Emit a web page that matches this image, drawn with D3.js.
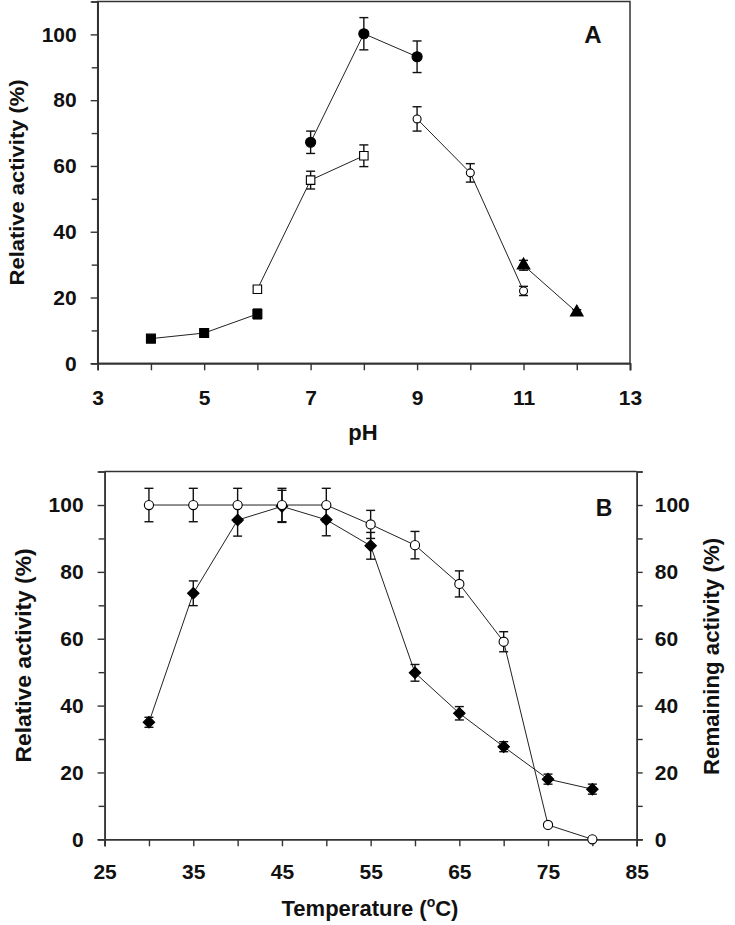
<!DOCTYPE html>
<html>
<head>
<meta charset="utf-8">
<script src="https://cdn.jsdelivr.net/npm/d3@7"></script>
<style>
  html, body { margin: 0; padding: 0; background: #fff; }
  svg { display: block; }
  text { font-family: Arial, "Liberation Sans", sans-serif; font-weight: bold; fill: #111; }
</style>
</head>
<body>
<svg id="chart" width="735" height="925"></svg>
<script>
// ---------- Panel A data (pH) ----------
const pH_filledSquare = [4, 5, 6];
const act_filledSquare = [7.5, 9.2, 15];
const err_filledSquare = [0.8, 0.8, 1.5];

const pH_openSquare = [6, 7, 8];
const act_openSquare = [22.5, 55.7, 63.1];
const err_openSquare = [0.8, 2.7, 3.3];

const pH_filledCircle = [7, 8, 9];
const act_filledCircle = [67.2, 100.2, 93.2];
const err_filledCircle = [3.4, 4.9, 4.8];

const pH_openCircle = [9, 10, 11];
const act_openCircle = [74.3, 57.9, 22];
const err_openCircle = [3.7, 2.8, 1.4];

const pH_triangle = [11, 12];
const act_triangle = [29.8, 15.5];
const err_triangle = [1.5, 0.8];

const pHTicks = [3, 5, 7, 9, 11, 13];
const pHMinorTicks = [4, 6, 8, 10, 12];

// ---------- Panel B data (temperature) ----------
const temps = [30, 35, 40, 45, 50, 55, 60, 65, 70, 75, 80];
const relActivity = [35, 73.6, 95.5, 99.6, 95.6, 87.8, 49.8, 37.7, 27.7, 18, 15];
const relError = [1.5, 3.7, 4.8, 4.8, 4.8, 4.0, 2.5, 2.0, 1.5, 1.5, 1.5];
const remActivity = [100, 100, 100, 100, 100, 94.2, 88, 76.4, 59.1, 4.3, 0];
const remError = [5, 5, 5, 5, 5, 4.2, 4.1, 3.9, 3.0, 0.5, 0];

const tempTicks = [25, 35, 45, 55, 65, 75, 85];
const tempMinorTicks = [30, 40, 50, 60, 70, 80];

const yTicks = [0, 20, 40, 60, 80, 100];
const yMinorTicks = [10, 30, 50, 70, 90];

// ---------- drawing ----------
const svg = d3.select("#chart");
const AXIS = "#333";
const LINE = "#222";

function zip(xs, ys, es) { return xs.map((x, i) => ({ x, y: ys[i], e: es[i] })); }

function drawSeries(g, xS, yS, data) {
  const line = d3.line().x(d => xS(d.x)).y(d => yS(d.y));
  g.append("path").datum(data).attr("d", line)
    .attr("fill", "none").attr("stroke", LINE).attr("stroke-width", 1);
}
function drawErrors(g, xS, yS, data, cap) {
  const eg = g.append("g").attr("stroke", "#111").attr("stroke-width", 1.4).attr("fill", "none");
  data.filter(d => d.e > 0).forEach(d => {
    const x = xS(d.x), y1 = yS(d.y - d.e), y2 = yS(d.y + d.e);
    eg.append("line").attr("x1", x).attr("x2", x).attr("y1", y1).attr("y2", y2);
    eg.append("line").attr("x1", x - cap / 2).attr("x2", x + cap / 2).attr("y1", y1).attr("y2", y1);
    eg.append("line").attr("x1", x - cap / 2).attr("x2", x + cap / 2).attr("y1", y2).attr("y2", y2);
  });
}
function drawMarkers(g, xS, yS, data, type, size, filled, rotate) {
  const sym = d3.symbol().type(type).size(size);
  g.selectAll(null).data(data).enter().append("path")
    .attr("d", sym)
    .attr("transform", d => `translate(${xS(d.x)},${yS(d.y)})` + (rotate ? ` rotate(${rotate})` : ""))
    .attr("fill", filled ? "#000" : "#fff")
    .attr("stroke", "#000").attr("stroke-width", 1.1);
}
function styleAxis(sel) {
  sel.select(".domain").attr("stroke", AXIS).attr("stroke-width", 1.5);
  sel.selectAll(".tick line").attr("stroke", AXIS).attr("stroke-width", 1.4);
  sel.selectAll(".tick text").attr("font-size", 21).attr("fill", "#111")
    .style("font-family", "Arial, 'Liberation Sans', sans-serif").style("font-weight", "bold");
}

// ===== Panel A =====
const xA = d3.scaleLinear().domain([3, 13]).range([97.7, 630]);
const yA = d3.scaleLinear().domain([0, 110]).range([363.3, 1.5]);
const gA = svg.append("g");

gA.append("rect").attr("x", xA(3)).attr("y", yA(110))
  .attr("width", xA(13) - xA(3)).attr("height", yA(0) - yA(110))
  .attr("fill", "none").attr("stroke", AXIS).attr("stroke-width", 1.5);

gA.append("g").attr("transform", `translate(0,${yA(0)})`)
  .call(d3.axisBottom(xA).tickValues(pHTicks).tickSize(7).tickPadding(20).tickFormat(d3.format("d")))
  .call(styleAxis);
gA.append("g").attr("transform", `translate(0,${yA(0)})`)
  .call(d3.axisBottom(xA).tickValues(pHMinorTicks).tickSize(7).tickFormat(""))
  .call(styleAxis);
gA.append("g").attr("transform", `translate(${xA(3)},0)`)
  .call(d3.axisLeft(yA).tickValues(yTicks).tickSize(7).tickPadding(14))
  .call(styleAxis);
gA.append("g").attr("transform", `translate(${xA(3)},0)`)
  .call(d3.axisLeft(yA).tickValues(yMinorTicks).tickSize(6).tickFormat(""))
  .call(styleAxis);

const sA1 = zip(pH_filledSquare, act_filledSquare, err_filledSquare);
const sA2 = zip(pH_openSquare, act_openSquare, err_openSquare);
const sA3 = zip(pH_filledCircle, act_filledCircle, err_filledCircle);
const sA4 = zip(pH_openCircle, act_openCircle, err_openCircle);
const sA5 = zip(pH_triangle, act_triangle, err_triangle);
[sA1, sA2, sA3, sA4, sA5].forEach(s => drawSeries(gA, xA, yA, s));
[sA1, sA2, sA3, sA4, sA5].forEach(s => drawErrors(gA, xA, yA, s, 9));
drawMarkers(gA, xA, yA, sA1, d3.symbolSquare, 80, true);
drawMarkers(gA, xA, yA, sA2, d3.symbolSquare, 72, false);
drawMarkers(gA, xA, yA, sA3, d3.symbolCircle, 80, true);
drawMarkers(gA, xA, yA, sA4, d3.symbolCircle, 50, false);
drawMarkers(gA, xA, yA, sA5, d3.symbolTriangle, 70, true);

gA.append("text").attr("x", 593).attr("y", 43).attr("text-anchor", "middle")
  .attr("font-size", 24).text("A");
gA.append("text").attr("x", 363).attr("y", 440).attr("text-anchor", "middle")
  .attr("font-size", 22).text("pH");
gA.append("text").attr("transform", `translate(23.5,${(yA(0) + yA(110)) / 2}) rotate(-90)`)
  .attr("text-anchor", "middle").attr("font-size", 21).attr("textLength", 206)
  .attr("lengthAdjust", "spacingAndGlyphs").text("Relative activity (%)");

// ===== Panel B =====
const xB = d3.scaleLinear().domain([25, 85]).range([104.6, 636.7]);
const yB = d3.scaleLinear().domain([0, 110]).range([839.3, 471.6]);
const gB = svg.append("g");

gB.append("line").attr("x1", xB(25)).attr("x2", xB(85)).attr("y1", yB(110)).attr("y2", yB(110))
  .attr("stroke", AXIS).attr("stroke-width", 1.5);

gB.append("g").attr("transform", `translate(0,${yB(0)})`)
  .call(d3.axisBottom(xB).tickValues(tempTicks).tickSize(7).tickPadding(18))
  .call(styleAxis);
gB.append("g").attr("transform", `translate(0,${yB(0)})`)
  .call(d3.axisBottom(xB).tickValues(tempMinorTicks).tickSize(7).tickFormat(""))
  .call(styleAxis);
gB.append("g").attr("transform", `translate(${xB(25)},0)`)
  .call(d3.axisLeft(yB).tickValues(yTicks).tickSize(7).tickPadding(14))
  .call(styleAxis);
gB.append("g").attr("transform", `translate(${xB(25)},0)`)
  .call(d3.axisLeft(yB).tickValues(yMinorTicks).tickSize(6).tickFormat(""))
  .call(styleAxis);
gB.append("g").attr("transform", `translate(${xB(85)},0)`)
  .call(d3.axisRight(yB).tickValues(yTicks).tickSize(6).tickPadding(12))
  .call(styleAxis);
gB.append("g").attr("transform", `translate(${xB(85)},0)`)
  .call(d3.axisRight(yB).tickValues(yMinorTicks).tickSize(6).tickFormat(""))
  .call(styleAxis);

const sRel = zip(temps, relActivity, relError);
const sRem = zip(temps, remActivity, remError);
drawSeries(gB, xB, yB, sRel);
drawSeries(gB, xB, yB, sRem);
drawErrors(gB, xB, yB, sRel, 9);
drawErrors(gB, xB, yB, sRem, 9);
drawMarkers(gB, xB, yB, sRel, d3.symbolSquare, 66, true, 45);
drawMarkers(gB, xB, yB, sRem, d3.symbolCircle, 66, false);

gB.append("text").attr("x", 604).attr("y", 516).attr("text-anchor", "middle")
  .attr("font-size", 23).text("B");
const tt = gB.append("text").attr("x", 370).attr("y", 916).attr("text-anchor", "middle")
  .attr("font-size", 22);
tt.append("tspan").text("Temperature (");
tt.append("tspan").attr("font-size", 14).attr("dy", -9).text("o");
tt.append("tspan").attr("dy", 9).text("C)");
gB.append("text").attr("transform", `translate(30.5,${(yB(0) + yB(110)) / 2}) rotate(-90)`)
  .attr("text-anchor", "middle").attr("font-size", 22).attr("textLength", 214)
  .attr("lengthAdjust", "spacingAndGlyphs").text("Relative activity (%)");
gB.append("text").attr("transform", `translate(718.5,${(yB(0) + yB(110)) / 2 + 1}) rotate(-90)`)
  .attr("text-anchor", "middle").attr("font-size", 22).attr("textLength", 237)
  .attr("lengthAdjust", "spacingAndGlyphs").text("Remaining activity (%)");
</script>
</body>
</html>
